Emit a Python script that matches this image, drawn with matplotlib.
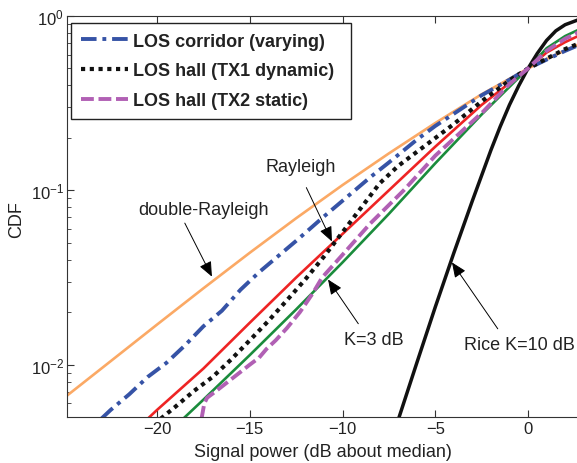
import matplotlib
matplotlib.use("Agg")
import matplotlib.pyplot as plt
from matplotlib.ticker import LogLocator, NullFormatter

plt.rcParams["font.family"] = ["Liberation Sans", "DejaVu Sans"]
plt.rcParams["mathtext.fontset"] = "custom"
plt.rcParams["mathtext.rm"] = "Liberation Sans"
plt.rcParams["mathtext.default"] = "regular"

# theoretical fading CDFs, signal power in dB relative to the median
dbl_ray_db = [-25, -22.5, -20, -17.5, -15, -12.5, -10, -7.5, -5, -2.5, 0, 1, 2, 3]
dbl_ray_cdf = [0.00646, 0.01047, 0.01698, 0.02742, 0.04385, 0.06918, 0.1072,
               0.1629, 0.2432, 0.3556, 0.5, 0.5662, 0.6353, 0.7079]

ray_db = [-20.5, -20, -17.5, -15, -12.5, -10, -7.5, -5, -2.5, 0, 1, 2, 3]
ray_cdf = [0.0049, 0.0055, 0.0095, 0.0174, 0.0316, 0.0562, 0.100, 0.178,
           0.309, 0.5, 0.617, 0.708, 0.794]

rice3_db = [-18.5, -17.5, -15, -12.5, -10, -7.5, -5, -2.5, 0, 1, 2, 3]
rice3_cdf = [0.0050, 0.0063, 0.01135, 0.02075, 0.0386, 0.0733, 0.1429,
             0.2723, 0.5, 0.653, 0.767, 0.861]

rice10_db = [-6.95, -6, -5, -4, -3, -2, -1.5, -1, -0.5, 0, 0.5, 1, 1.5, 2, 3]
rice10_cdf = [0.0050, 0.0102, 0.0214, 0.0437, 0.0871, 0.170, 0.232, 0.309,
              0.398, 0.5, 0.610, 0.724, 0.822, 0.891, 0.977]

# measured CDFs
corr_db = [-23.0, -22.5, -21.5, -20.5, -19.5, -18.5, -17.5, -16.5, -15.5,
           -14.5, -13.5, -12.5, -11, -10, -8.5, -7.5, -6, -5, -4, -2.5, -1,
           0, 1, 2, 2.7]
corr_cdf = [0.0049, 0.0055, 0.00676, 0.00851, 0.01023, 0.01288, 0.0166,
            0.0204, 0.0269, 0.0339, 0.0417, 0.0513, 0.0708, 0.0871, 0.119,
            0.1445, 0.195, 0.234, 0.275, 0.351, 0.431, 0.5, 0.562, 0.631,
            0.679]

tx1_db = [-19.8, -19, -18, -17, -16, -15, -14, -13, -12, -11, -10, -9, -8,
          -7, -6, -5, -4, -2.5, -1, 0, 1, 2, 2.7]
tx1_cdf = [0.0049, 0.00575, 0.00708, 0.00851, 0.01072, 0.0138, 0.0178,
           0.0234, 0.0309, 0.0417, 0.0575, 0.0794, 0.1096, 0.138, 0.166,
           0.1995, 0.240, 0.324, 0.427, 0.5, 0.569, 0.646, 0.692]

tx2_db = [-17.6, -17.45, -17.3, -16.8, -16.2, -15.6, -15.0, -14.5, -14.1,
          -13.6, -13.0, -12.3, -11.6, -11.1, -10.0, -8.5, -6.7, -5.0, -2.4,
          -1.0, 0, 1, 2, 2.7]
tx2_cdf = [0.0049, 0.0060, 0.00646, 0.00708, 0.00794, 0.00891, 0.0100,
           0.01096, 0.0123, 0.0138, 0.0162, 0.0200, 0.0257, 0.0316, 0.0427,
           0.0646, 0.100, 0.158, 0.284, 0.407, 0.5, 0.631, 0.741, 0.804]

fig = plt.figure(figsize=(5.77, 4.64), dpi=100)
ax = fig.add_axes([67 / 577, 46 / 464, 511 / 577, 401 / 464])

ax.plot(dbl_ray_db, dbl_ray_cdf, color="#fba965", lw=1.9)
ax.plot(ray_db, ray_cdf, color="#ee2424", lw=1.9)
ax.plot(rice3_db, rice3_cdf, color="#1a8c3c", lw=1.9)
ax.plot(rice10_db, rice10_cdf, color="#111111", lw=2.5)

ax.plot(corr_db, corr_cdf, color="#3653a6", lw=2.8,
        dashes=(4, 1.5, 1, 1.5), label="LOS corridor (varying)")
ax.plot(tx1_db, tx1_cdf, color="#111111", lw=3.0,
        dashes=(1, 1.1), label="LOS hall (TX1 dynamic)")
ax.plot(tx2_db, tx2_cdf, color="#b160b4", lw=2.8,
        dashes=(3.3, 1.2), label="LOS hall (TX2 static)")

ax.set_yscale("log")
ax.set_xlim(-24.852, 2.695)
ax.set_ylim(10 ** -2.3, 1)
ax.set_xticks([-20, -15, -10, -5, 0])
ax.yaxis.set_major_locator(LogLocator(base=10, numticks=5))
ax.yaxis.set_minor_locator(LogLocator(base=10, subs=range(2, 10), numticks=20))
ax.yaxis.set_minor_formatter(NullFormatter())
ax.tick_params(which="both", direction="in", top=True, right=False,
               labelsize=12, colors="#333333", labelcolor="#222222")
ax.tick_params(which="major", length=5, pad=3)
ax.tick_params(axis="y", which="major", pad=2)
ax.tick_params(which="minor", length=3)
for sp in ax.spines.values():
    sp.set_color("#333333")

ax.set_xlabel("Signal power (dB about median)", fontsize=13, color="#222222")
ax.xaxis.set_label_coords(0.501, -0.066)
ax.set_ylabel("CDF", fontsize=13, color="#222222")
ax.yaxis.set_label_coords(-0.082, 0.494)

arrow = dict(arrowstyle="-|>,head_length=0.7,head_width=0.3", color="black",
             lw=0.7, shrinkA=2, shrinkB=0)
ax.annotate("double-Rayleigh", xy=(-17.04, 0.032), xytext=(-17.52, 0.0778),
            ha="center", va="center", fontsize=13, color="#222222",
            arrowprops=dict(arrow, relpos=(0.34, 0)))
ax.annotate("Rayleigh", xy=(-10.57, 0.0509), xytext=(-12.24, 0.1374),
            ha="center", va="center", fontsize=13, color="#222222",
            arrowprops=dict(arrow, relpos=(0.49, 0), shrinkA=8))
ax.annotate("K=3 dB", xy=(-10.78, 0.0308), xytext=(-8.33, 0.01393),
            ha="center", va="center", fontsize=13, color="#222222",
            arrowprops=dict(arrow, relpos=(0.33, 1), shrinkA=4))
ax.annotate("Rice K=10 dB", xy=(-4.10, 0.0386), xytext=(-0.46, 0.01303),
            ha="center", va="center", fontsize=13, color="#222222",
            arrowprops=dict(arrow, relpos=(0.35, 1), shrinkA=4))

leg = ax.legend(loc="upper left", bbox_to_anchor=(0.0078, 0.2, 0.548, 0.783),
                mode="expand", borderaxespad=0, fancybox=False,
                edgecolor="#222222", framealpha=1, handlelength=2.6,
                handletextpad=0.3, labelspacing=0.7, borderpad=0.55,
                prop=dict(size=13, weight="bold"))
leg.get_frame().set_linewidth(1.0)
for t in leg.get_texts():
    t.set_color("#222222")

fig.savefig("out.png", dpi=100)
